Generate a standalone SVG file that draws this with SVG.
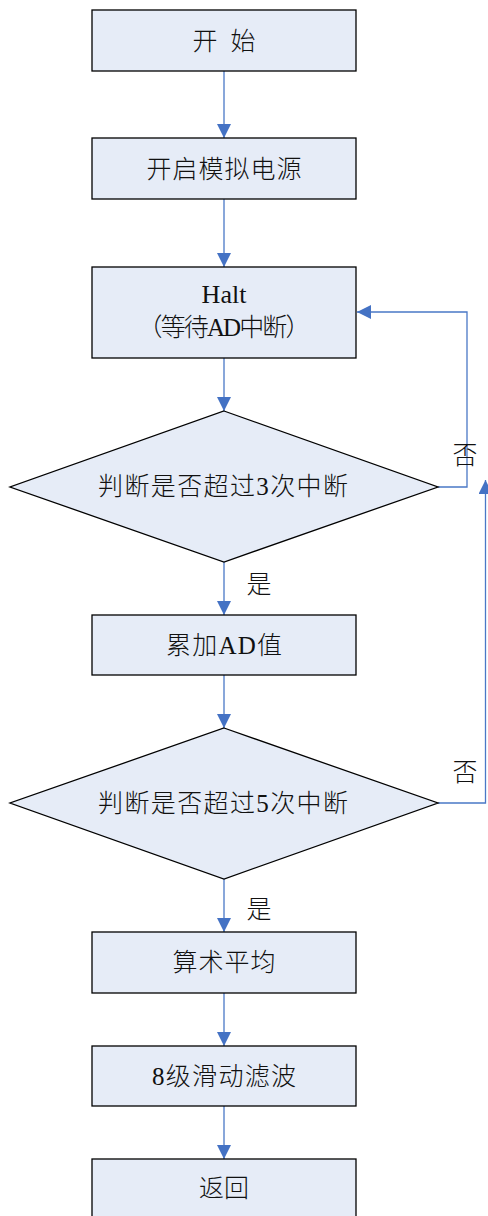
<svg xmlns="http://www.w3.org/2000/svg" width="488" height="1216" viewBox="0 0 488 1216">
<style>
.n{fill:#E6ECF7;stroke:#000;stroke-width:1.3}
.t{font-family:"Liberation Serif","Noto Sans CJK SC",serif;font-size:25px;font-weight:300;fill:#111;text-anchor:middle;dominant-baseline:central}
.c{fill:none;stroke:#4A78C6;stroke-width:1.3}
</style>
<defs>
<marker id="a" markerUnits="userSpaceOnUse" markerWidth="14" markerHeight="14" refX="14" refY="7" orient="auto">
<path d="M0,0 L14,7 L0,14 z" fill="#4472C4"/>
</marker>
</defs>
<rect width="488" height="1216" fill="#fff"/>
<g id="connectors">
<path class="c" d="M224,71 V138" marker-end="url(#a)"/>
<path class="c" d="M224,199 V267" marker-end="url(#a)"/>
<path class="c" d="M224,358 V411" marker-end="url(#a)"/>
<path class="c" d="M224,562 V615" marker-end="url(#a)"/>
<path class="c" d="M224,675 V728" marker-end="url(#a)"/>
<path class="c" d="M224,879 V932" marker-end="url(#a)"/>
<path class="c" d="M224,993 V1046" marker-end="url(#a)"/>
<path class="c" d="M224,1106 V1159" marker-end="url(#a)"/>
<path class="c" d="M438,487 H467 V312 H357" marker-end="url(#a)"/>
<path class="c" d="M438,803 H485.5 V480" marker-end="url(#a)"/>
<text class="t" x="465" y="455">否</text>
<text class="t" x="465" y="772">否</text>
<text class="t" x="259" y="584">是</text>
<text class="t" x="259" y="909">是</text>
</g>
<g id="start">
<rect class="n" x="92" y="10" width="264" height="61"/>
<text class="t" x="224" y="41" textLength="63" lengthAdjust="spacing">开 始</text>
</g>
<g id="power">
<rect class="n" x="92" y="138" width="264" height="61"/>
<text class="t" x="224" y="169" textLength="155" lengthAdjust="spacing">开启模拟电源</text>
</g>
<g id="halt">
<rect class="n" x="92" y="267" width="264" height="91"/>
<text class="t" x="224" y="294" style="font-size:26px">Halt</text>
<text class="t" x="224" y="327" textLength="173" lengthAdjust="spacing">（等待AD中断）</text>
</g>
<g id="check3">
<polygon class="n" points="224,411 438,487 224,562 10,487"/>
<text class="t" x="223" y="486" textLength="250" lengthAdjust="spacing">判断是否超过3次中断</text>
</g>
<g id="accum">
<rect class="n" x="92" y="615" width="264" height="60"/>
<text class="t" x="224" y="645" textLength="116" lengthAdjust="spacing">累加AD值</text>
</g>
<g id="check5">
<polygon class="n" points="224,728 438,803 224,879 10,803"/>
<text class="t" x="223" y="803" textLength="250" lengthAdjust="spacing">判断是否超过5次中断</text>
</g>
<g id="average">
<rect class="n" x="92" y="932" width="264" height="61"/>
<text class="t" x="224" y="962" textLength="103" lengthAdjust="spacing">算术平均</text>
</g>
<g id="filter">
<rect class="n" x="92" y="1046" width="264" height="60"/>
<text class="t" x="224" y="1076" textLength="144" lengthAdjust="spacing">8级滑动滤波</text>
</g>
<g id="return">
<rect class="n" x="92" y="1159" width="264" height="70"/>
<text class="t" x="224" y="1188" textLength="50" lengthAdjust="spacing">返回</text>
</g>
</svg>
